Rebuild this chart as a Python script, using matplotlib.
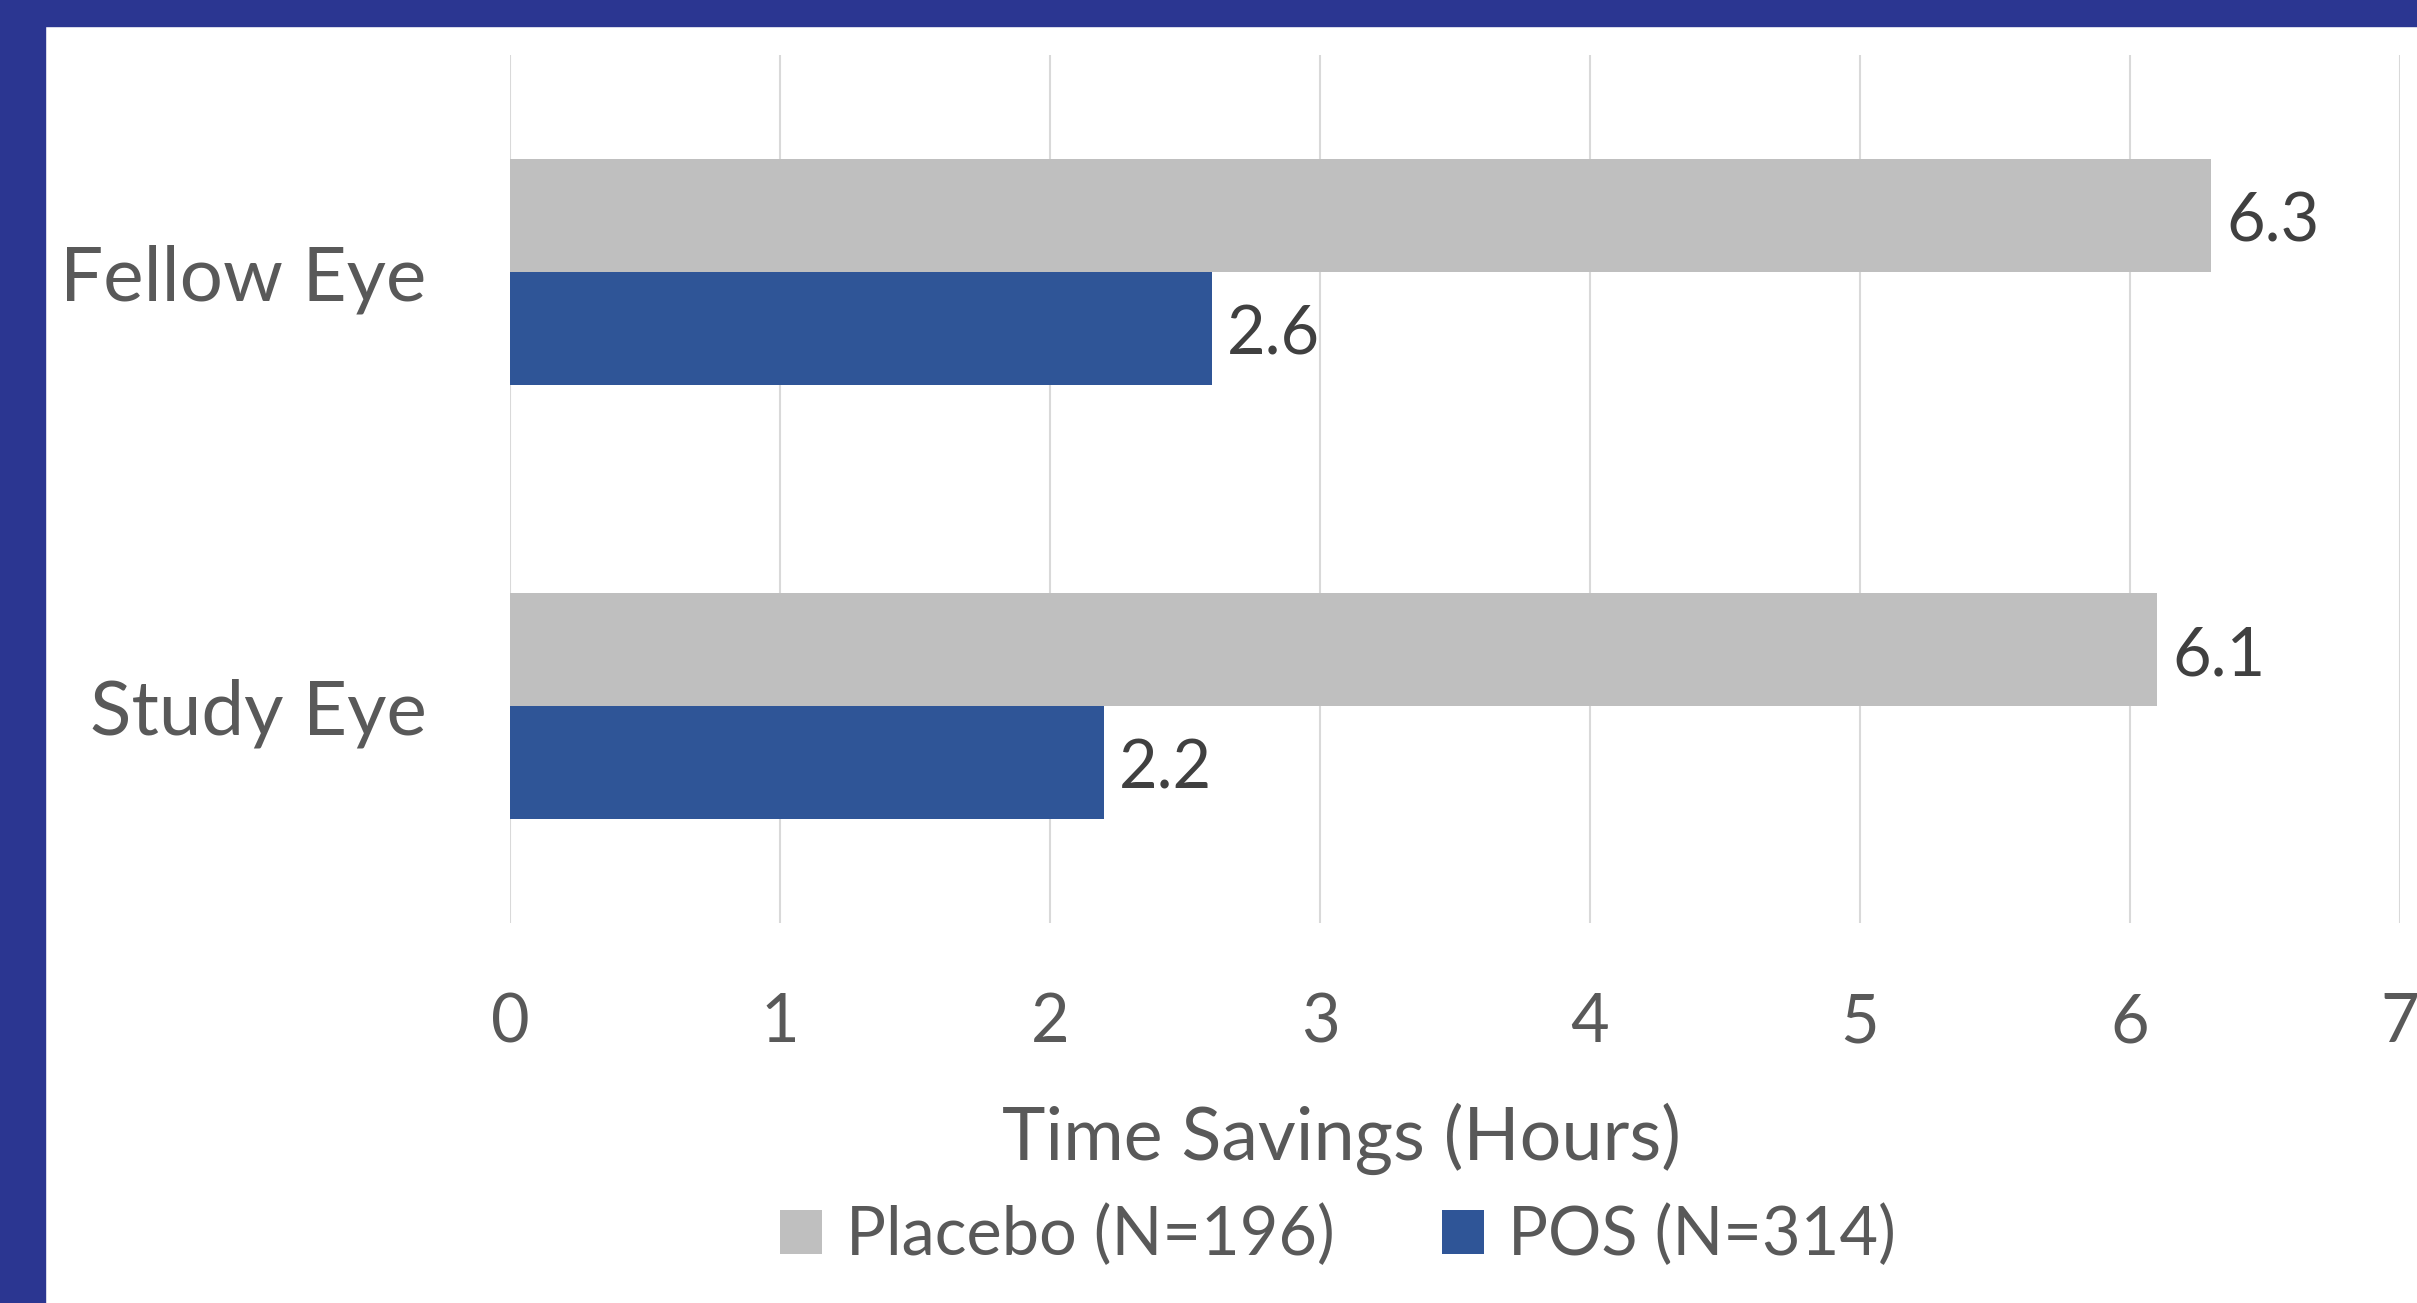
import matplotlib
matplotlib.use('Agg')
import matplotlib.pyplot as plt
from matplotlib.patches import Rectangle

# data
categories = ['Study Eye', 'Fellow Eye']
placebo = [6.1, 6.3]
pos = [2.2, 2.6]
series_names = ['Placebo (N=196)', 'POS (N=314)']
xticks = [0, 1, 2, 3, 4, 5, 6, 7]

grey = '#BFBFBF'
blue = '#2F5597'
txt = '#595959'

plt.rcParams['font.family'] = ['Lato', 'DejaVu Sans']

fig = plt.figure(figsize=(24.17, 13.03), dpi=100)
ax = fig.add_axes([510 / 2417, 1 - 923 / 1303, (2400 - 510) / 2417, (923 - 55) / 1303])

bh = 0.26
ypos = list(range(len(categories)))
b1 = ax.barh([y + bh / 2 for y in ypos], placebo, height=bh, color=grey, label=series_names[0], zorder=2)
b2 = ax.barh([y - bh / 2 for y in ypos], pos, height=bh, color=blue, label=series_names[1], zorder=2)

# value labels next to bar ends
for bars, vals in [(b1, placebo), (b2, pos)]:
    for r, v in zip(bars, vals):
        ax.annotate('%.1f' % v, (v, r.get_y() + r.get_height() / 2), xytext=(11, -5),
                    textcoords='offset points', ha='left', va='center',
                    fontsize=48, color='#404040')

ax.set_xlim(0, 7)
ax.set_ylim(-0.5, 1.5)
ax.set_xticks(xticks)
ax.set_xticklabels([str(t) for t in xticks], fontsize=48, color=txt)
ax.set_yticks(ypos)
ax.set_yticklabels(categories, fontsize=55, color=txt)
ax.tick_params(axis='x', length=0, pad=50)
ax.tick_params(axis='y', length=0, pad=60)
ax.grid(axis='x', color='#D9D9D9', linewidth=1.5, zorder=0)
for s in ax.spines.values():
    s.set_visible(False)

fig.text(1341 / 2417, 1 - 1139 / 1303, 'Time Savings (Hours)', ha='center', va='center',
         fontsize=53, color=txt)

fig.legend(handles=[b1, b2], loc='center', bbox_to_anchor=(1338 / 2417, 1 - 1236 / 1303), ncol=2,
           frameon=False, fontsize=48, labelcolor=txt, handlelength=0.63, handleheight=0.63,
           handletextpad=0.37, columnspacing=1.6)

# slide frame
fig.patches.append(Rectangle((0, 1 - 26 / 1303), 1, 26 / 1303, transform=fig.transFigure,
                             color='#2B3691', zorder=10))
fig.patches.append(Rectangle((0, 0), 45 / 2417, 1, transform=fig.transFigure,
                             color='#2B3691', zorder=10))

fig.savefig('out.png', dpi=100)
